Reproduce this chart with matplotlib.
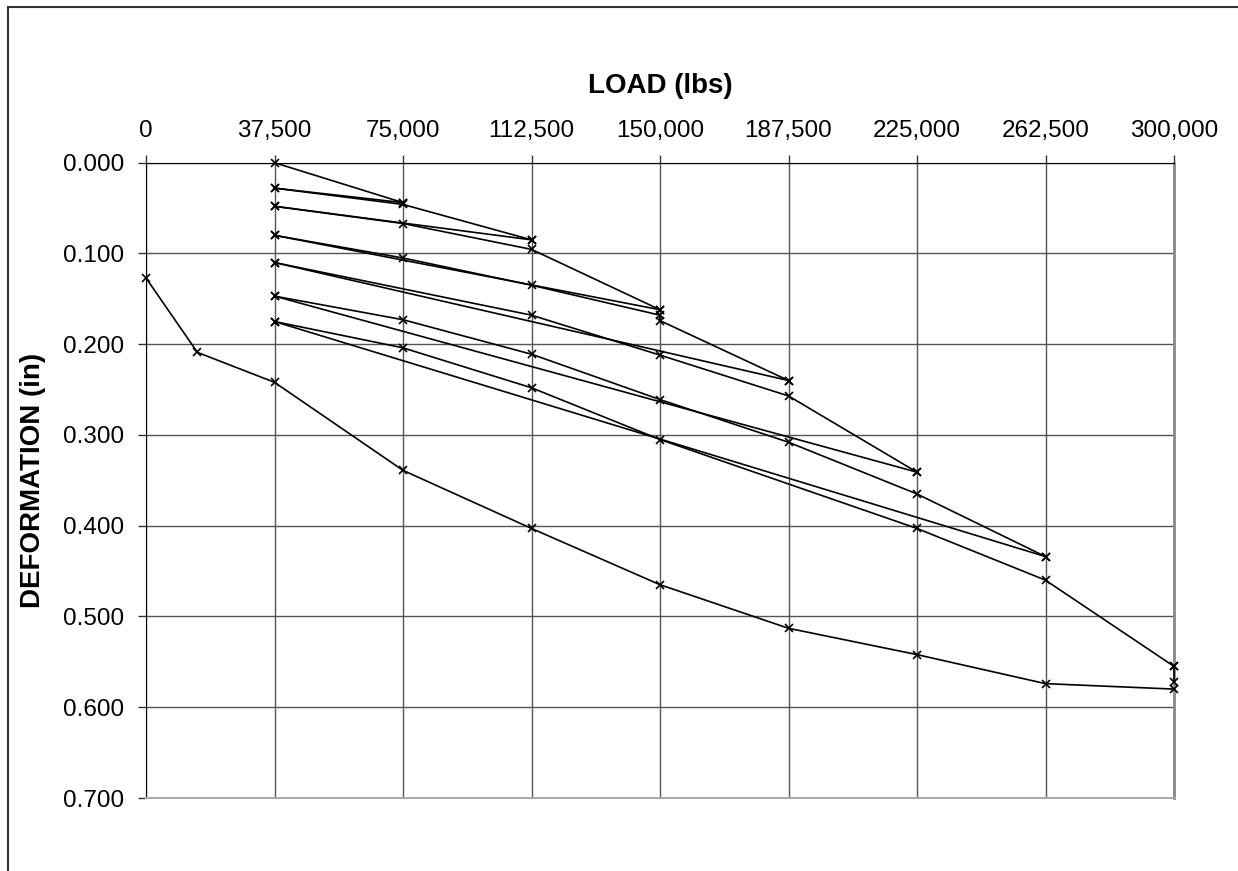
import matplotlib
matplotlib.use('Agg')
import matplotlib.pyplot as plt
from matplotlib.patches import Rectangle

plt.rcParams['font.family'] = ['Liberation Sans', 'DejaVu Sans']

# load steps (lbs) and deformations (in) for each load / unload run
cycle1_load = [37500, 75000]
cycle1_def = [0.000, 0.044]
unload1_load = [75000, 37500]
unload1_def = [0.044, 0.028]

cycle2_load = [37500, 75000, 112500]
cycle2_def = [0.028, 0.046, 0.085]
unload2_load = [112500, 37500]
unload2_def = [0.085, 0.048]

cycle3_load = [37500, 75000, 112500, 150000]
cycle3_def = [0.048, 0.067, 0.0955, 0.162]
unload3_load = [150000, 37500]
unload3_def = [0.162, 0.080]

cycle4_load = [37500, 75000, 112500, 150000, 150000, 187500]
cycle4_def = [0.080, 0.105, 0.135, 0.168, 0.174, 0.240]
unload4_load = [187500, 37500]
unload4_def = [0.240, 0.110]

cycle5_load = [37500, 112500, 150000, 187500, 225000]
cycle5_def = [0.110, 0.168, 0.212, 0.257, 0.341]
unload5_load = [225000, 37500]
unload5_def = [0.341, 0.147]

cycle6_load = [37500, 75000, 112500, 150000, 187500, 225000, 262500]
cycle6_def = [0.147, 0.173, 0.211, 0.261, 0.308, 0.365, 0.434]
unload6_load = [262500, 37500]
unload6_def = [0.434, 0.175]

cycle7_load = [37500, 75000, 112500, 150000, 225000, 262500, 300000]
cycle7_def = [0.175, 0.204, 0.248, 0.305, 0.403, 0.460, 0.555]
hold7_load = [300000, 300000]
hold7_def = [0.555, 0.572]

final_load = [0, 15000, 37500, 75000, 112500, 150000, 187500, 225000, 262500, 300000]
final_def = [0.127, 0.209, 0.242, 0.339, 0.403, 0.465, 0.513, 0.542, 0.574, 0.580]

x_ticks = [0, 37500, 75000, 112500, 150000, 187500, 225000, 262500, 300000]
y_ticks = [0.0, 0.1, 0.2, 0.3, 0.4, 0.5, 0.6, 0.7]

runs = [
    (cycle1_load, cycle1_def), (unload1_load, unload1_def),
    (cycle2_load, cycle2_def), (unload2_load, unload2_def),
    (cycle3_load, cycle3_def), (unload3_load, unload3_def),
    (cycle4_load, cycle4_def), (unload4_load, unload4_def),
    (cycle5_load, cycle5_def), (unload5_load, unload5_def),
    (cycle6_load, cycle6_def), (unload6_load, unload6_def),
    (cycle7_load, cycle7_def), (hold7_load, hold7_def),
    (final_load, final_def),
]

W, H = 1238, 871
fig = plt.figure(figsize=(W / 100, H / 100), dpi=100)
ax = fig.add_axes([146 / W, 1 - 798 / H, (1174 - 146) / W, (798 - 162.7) / H])

for loads, defs in runs:
    ax.plot(loads, defs, color='black', lw=1.2, marker='x', ms=6, mew=1.2,
            clip_on=False, zorder=3)

ax.set_xlim(0, 300000)
ax.set_ylim(0.7, 0.0)

ax.xaxis.tick_top()
ax.xaxis.set_label_position('top')
ax.set_xticks(x_ticks)
ax.set_xticklabels([f'{v:,}' for v in x_ticks])
ax.set_yticks(y_ticks)
ax.set_yticklabels([f'{v:.3f}' for v in y_ticks])

ax.tick_params(axis='x', direction='out', length=6, width=1, pad=9,
               labelsize=17.5, color='#333333')
ax.tick_params(axis='y', direction='out', length=6, width=1, pad=10,
               labelsize=17.5, color='#333333')

ax.set_axisbelow(True)
ax.grid(True, color='#555555', lw=1)

ax.spines['left'].set_color('black')
ax.spines['top'].set_color('black')
ax.spines['right'].set_color('#888888')
ax.spines['right'].set_linewidth(2)
ax.spines['bottom'].set_color('#aaaaaa')
ax.spines['bottom'].set_linewidth(1.5)

ax.set_xlabel('LOAD (lbs)', fontsize=20, fontweight='bold', labelpad=19)
ax.set_ylabel('DEFORMATION (in)', fontsize=20, fontweight='bold', labelpad=12)

# outer frame of the chart area
fig.add_artist(Rectangle((8 / W, -0.1), 1.2, 1.1 - 7 / H, transform=fig.transFigure,
                         fill=False, ec='#333333', lw=1.5))

fig.savefig('out.png', dpi=100, facecolor='white')
